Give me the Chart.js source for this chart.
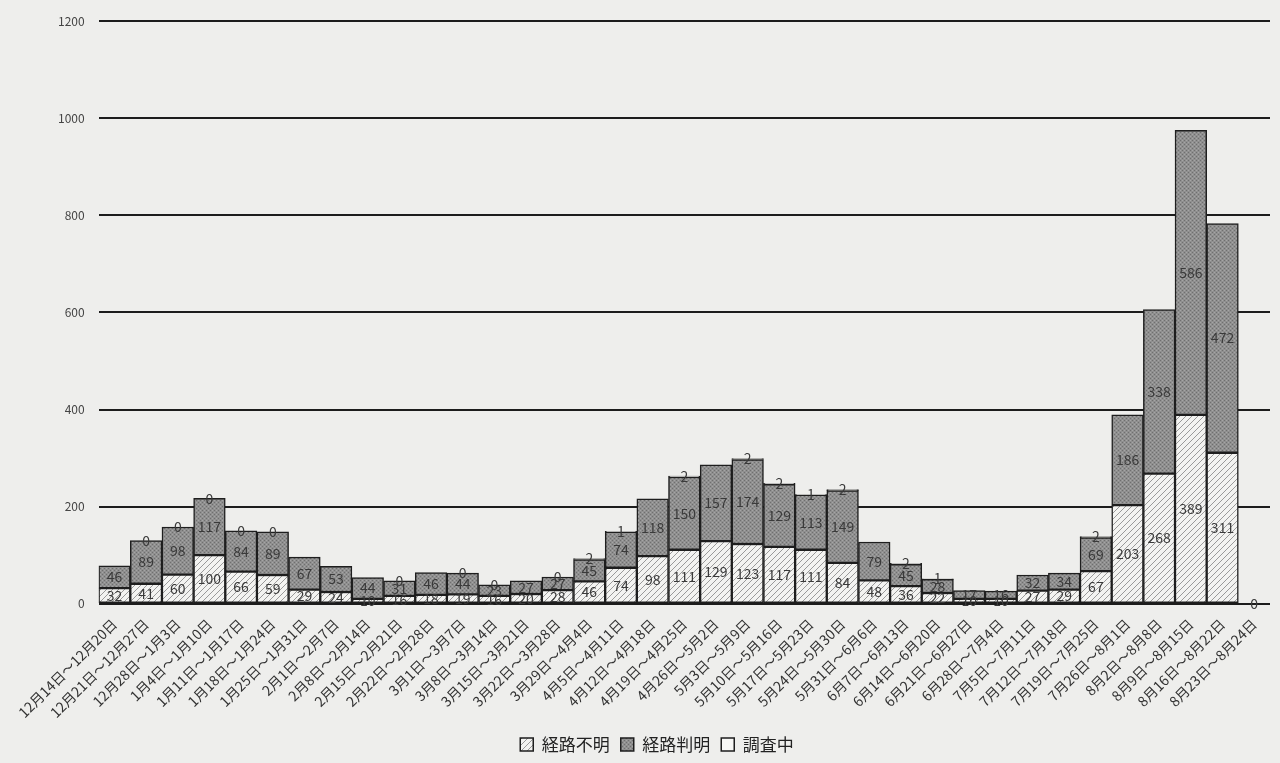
<!DOCTYPE html>
<html>
<head>
<meta charset="utf-8">
<script src="https://cdn.jsdelivr.net/npm/chart.js@4"></script>
<style>
    html, body { margin: 0; padding: 0; background: #eeeeec; }
    #wrap { width: 1280px; height: 763px; }
</style>
</head>
<body>
<div id="wrap"><canvas id="weeklyChart"></canvas></div>
<script>
const weeks = [
    "12月14日～12月20日", "12月21日～12月27日", "12月28日～1月3日", "1月4日～1月10日",
    "1月11日～1月17日", "1月18日～1月24日", "1月25日～1月31日", "2月1日～2月7日",
    "2月8日～2月14日", "2月15日～2月21日", "2月22日～2月28日", "3月1日～3月7日",
    "3月8日～3月14日", "3月15日～3月21日", "3月22日～3月28日", "3月29日～4月4日",
    "4月5日～4月11日", "4月12日～4月18日", "4月19日～4月25日", "4月26日～5月2日",
    "5月3日～5月9日", "5月10日～5月16日", "5月17日～5月23日", "5月24日～5月30日",
    "5月31日～6月6日", "6月7日～6月13日", "6月14日～6月20日", "6月21日～6月27日",
    "6月28日～7月4日", "7月5日～7月11日", "7月12日～7月18日", "7月19日～7月25日",
    "7月26日～8月1日", "8月2日～8月8日", "8月9日～8月15日", "8月16日～8月22日",
    "8月23日～8月24日"
];

// 経路不明
const unknownRoute = [32, 41, 60, 100, 66, 59, 29, 24, 10, 16, 18, 19, 16, 20, 28, 46,
    74, 98, 111, 129, 123, 117, 111, 84, 48, 36, 22, 10, 10, 27, 29, 67, 203, 268, 389, 311, 0];
// 経路判明
const knownRoute = [46, 89, 98, 117, 84, 89, 67, 53, 44, 31, 46, 44, 23, 27, 27, 45,
    74, 118, 150, 157, 174, 129, 113, 149, 79, 45, 28, 17, 16, 32, 34, 69, 186, 338, 586, 472, null];
// 調査中
const underInvestigation = [null, 0, 0, 0, 0, 0, null, null, null, 0, null, 0, 0, null, 0, 2,
    1, null, 2, null, 2, 2, 1, 2, null, 2, 1, null, null, null, null, 2, null, null, null, null, null];

const yTicks = [0, 200, 400, 600, 800, 1000, 1200];

const jpFont = "'Noto Sans CJK JP', 'DejaVu Sans', sans-serif";

/* Diagonal hatch used for 経路不明 */
function makeHatch() {
    const c = document.createElement("canvas");
    c.width = 6;
    c.height = 6;
    const g = c.getContext("2d");
    g.fillStyle = "#f3f3f1";
    g.fillRect(0, 0, 6, 6);
    g.strokeStyle = "#9a9a9a";
    g.lineWidth = 1;
    g.beginPath();
    g.moveTo(0, 6); g.lineTo(6, 0);
    g.moveTo(-3, 3); g.lineTo(3, -3);
    g.moveTo(3, 9); g.lineTo(9, 3);
    g.stroke();
    return g.createPattern(c, "repeat");
}

/* Stippled dark grey used for 経路判明 */
function makeStipple() {
    const c = document.createElement("canvas");
    c.width = 4;
    c.height = 4;
    const g = c.getContext("2d");
    g.fillStyle = "#8f8f8f";
    g.fillRect(0, 0, 4, 4);
    g.fillStyle = "#6f6f6f";
    g.fillRect(0, 0, 1, 1);
    g.fillRect(2, 2, 1, 1);
    g.fillStyle = "#a5a5a5";
    g.fillRect(2, 0, 1, 1);
    g.fillRect(0, 2, 1, 1);
    return g.createPattern(c, "repeat");
}

// draws each segment's value in its middle, like the Excel data labels
const segmentLabels = {
    id: "segmentLabels",
    afterDatasetsDraw(chart) {
        const ctx = chart.ctx;
        ctx.save();
        ctx.font = "14px " + jpFont;
        ctx.fillStyle = "#3a3a3a";
        ctx.textAlign = "center";
        ctx.textBaseline = "middle";
        chart.data.datasets.forEach((ds, i) => {
            const meta = chart.getDatasetMeta(i);
            meta.data.forEach((bar, j) => {
                const v = ds.data[j];
                if (v === null || v === undefined) return;
                const y = (bar.y + bar.base) / 2;
                ctx.fillText(String(v), bar.x, y);
            });
        });
        ctx.restore();
    }
};

const canvas = document.getElementById("weeklyChart");

new Chart(canvas, {
    type: "bar",
    data: {
        labels: weeks,
        datasets: [
            {
                label: "経路不明",
                data: unknownRoute,
                backgroundColor: makeHatch(),
                borderColor: "#1e1e1e",
                borderWidth: 1.5,
                borderSkipped: false,
            },
            {
                label: "経路判明",
                data: knownRoute,
                backgroundColor: makeStipple(),
                borderColor: "#1e1e1e",
                borderWidth: 1.5,
                borderSkipped: false,
            },
            {
                label: "調査中",
                data: underInvestigation,
                backgroundColor: "#f7f7f5",
                borderColor: "#1e1e1e",
                borderWidth: 1.5,
                borderSkipped: false,
            },
        ],
    },
    options: {
        responsive: true,
        maintainAspectRatio: false,
        animation: false,
        layout: { padding: { top: 8, left: 44, right: 10, bottom: 0 } },
        datasets: { bar: { barPercentage: 1, categoryPercentage: 1 } },
        scales: {
            x: {
                stacked: true,
                grid: { display: false },
                border: { display: false },
                ticks: {
                    autoSkip: false,
                    maxRotation: 45,
                    minRotation: 45,
                    color: "#333",
                    font: { family: jpFont, size: 14 },
                    padding: 4,
                },
            },
            y: {
                stacked: true,
                min: 0,
                max: 1200,
                afterBuildTicks: (axis) => { axis.ticks = yTicks.map((v) => ({ value: v })); },
                grid: { color: "#1c1c1c", lineWidth: 2, drawTicks: false },
                border: { display: false },
                ticks: {
                    color: "#444",
                    font: { family: jpFont, size: 12 },
                    padding: 14,
                    callback: (value) => String(value),
                },
            },
        },
        plugins: {
            tooltip: { enabled: false },
            legend: {
                position: "bottom",
                labels: {
                    color: "#222",
                    font: { family: jpFont, size: 17 },
                    boxWidth: 13,
                    boxHeight: 13,
                    padding: 11,
                },
            },
        },
    },
    plugins: [segmentLabels],
});
</script>
</body>
</html>
